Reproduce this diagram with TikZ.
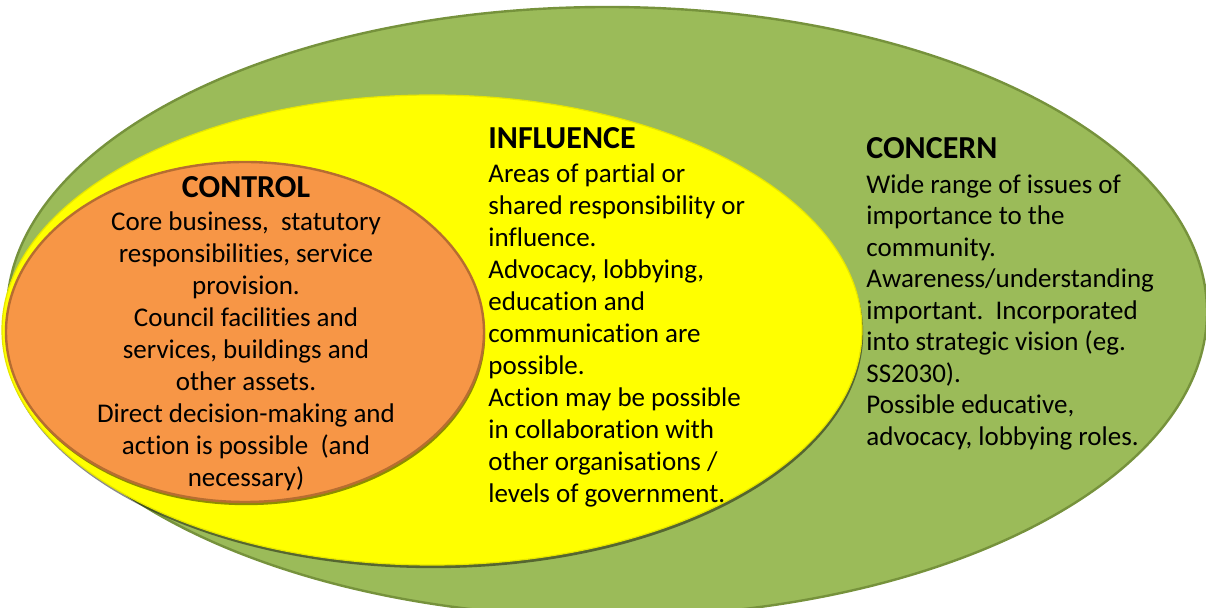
\documentclass[tikz,border=0pt]{standalone}
\usepackage{fontspec}
\setmainfont{Carlito}[Ligatures=CommonOff]
\usetikzlibrary{shapes.geometric,shadows,positioning}
\definecolor{concernfill}{HTML}{9BBB59}
\definecolor{concernline}{HTML}{76923C}
\definecolor{influencefill}{HTML}{FFFF00}
\definecolor{influenceline}{HTML}{E6E600}
\definecolor{controlfill}{HTML}{F79646}
\definecolor{controlline}{HTML}{B66D31}
\newcommand\zonebody{\fontsize{13.5}{16}\selectfont}
\newcommand\zonehead{\bfseries\fontsize{16}{16}\selectfont}

\begin{document}
\begin{tikzpicture}[x=0.5pt, y=-0.5pt, every node/.style={font=\zonebody, inner sep=0pt},
    zone/.style={ellipse, line width=1.2pt},
    shade below/.style={drop shadow={shadow xshift=0.6pt, shadow yshift=-1.6pt, opacity=0.45, fill=black}},
    head/.style={font=\zonehead}]
    \useasboundingbox (0,0) rectangle (1206,608);
    \clip (0,0) rectangle (1206,608);
    % the three rings, outermost first
    \node[zone, fill=concernfill, draw=concernline, minimum width=600pt, minimum height=305pt] (concern) at (607,312) {};
    \node[zone, shade below, fill=influencefill, draw=influenceline, line width=0.6pt, minimum width=430pt, minimum height=235pt] (influence) at (432,330) {};
    \node[zone, shade below, fill=controlfill, draw=controlline, minimum width=239pt, minimum height=170pt] (control) at (245,332) {};
    % control
    \node[head, anchor=base] (controlhead) at (246,198) {CONTROL};
    \node[align=center, below=6.5pt of controlhead.base] (controltext) {Core business,\ \ statutory\\ responsibilities, service\\ provision.\\ Council facilities and\\ services, buildings and\\ other assets.\\ Direct decision-making and\\ action is possible\ \ (and\\ necessary)};
    % influence
    \node[head, anchor=base west] (influencehead) at (488,149) {INFLUENCE};
    \node[align=left, below right=7pt and 0pt of influencehead.base west] (influencetext) {Areas of partial or\\ shared responsibility or\\ influence.\\ Advocacy, lobbying,\\ education and\\ communication are\\ possible.\\ Action may be possible\\ in collaboration with\\ other organisations /\\ levels of government.};
    % concern
    \node[head, anchor=base west] (concernhead) at (866,159) {CONCERN};
    \node[align=left, below right=7.5pt and 0pt of concernhead.base west, font=\fontsize{13.5}{15.75}\selectfont] (concerntext) {Wide range of issues of\\ importance to the\\ community.\\ Awareness/understanding\\ important.\ \ Incorporated\\ into strategic vision (eg.\\ SS2030).\\ Possible educative,\\ advocacy, lobbying roles.};
\end{tikzpicture}
\end{document}
